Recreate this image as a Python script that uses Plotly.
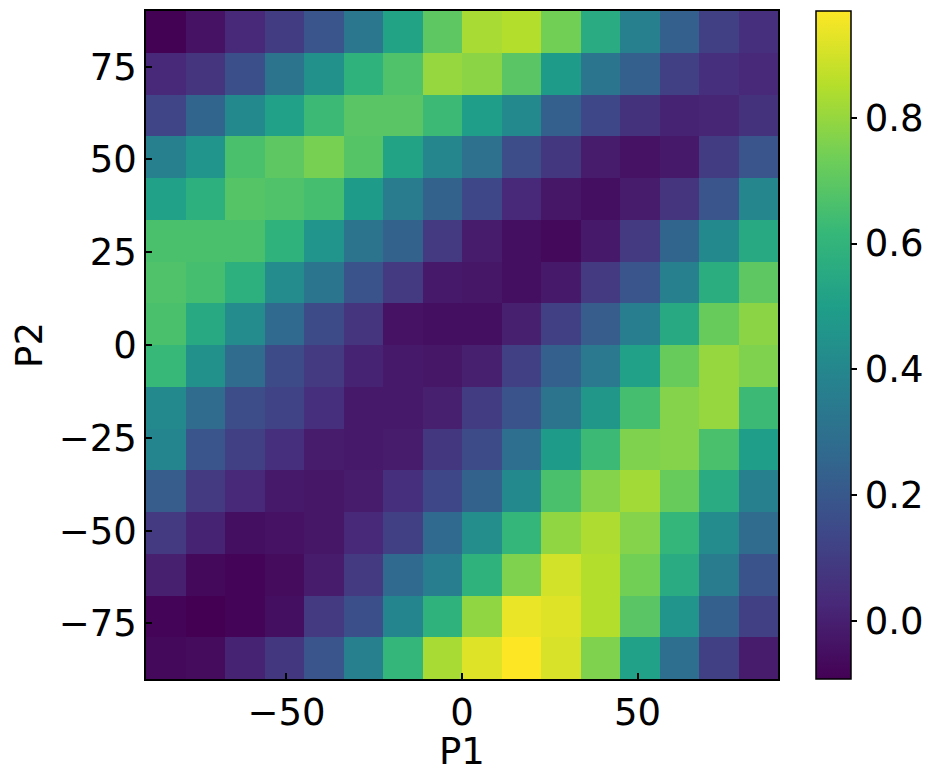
import plotly.graph_objects as go

# cell centres (degrees)
p1_centers = [-84.375, -73.125, -61.875, -50.625, -39.375, -28.125, -16.875, -5.625,
              5.625, 16.875, 28.125, 39.375, 50.625, 61.875, 73.125, 84.375]
# rows listed from top (P2 = 84.375) to bottom (P2 = -84.375)
p2_centers = [84.375, 73.125, 61.875, 50.625, 39.375, 28.125, 16.875, 5.625,
              -5.625, -16.875, -28.125, -39.375, -50.625, -61.875, -73.125, -84.375]

row_00 = [-0.09, -0.04, 0.03, 0.10, 0.19, 0.33, 0.52, 0.70, 0.83, 0.85, 0.74, 0.56, 0.37, 0.23, 0.11, 0.05]
row_01 = [0.03, 0.07, 0.17, 0.31, 0.44, 0.59, 0.67, 0.80, 0.78, 0.69, 0.49, 0.32, 0.23, 0.11, 0.05, 0.03]
row_02 = [0.13, 0.25, 0.41, 0.51, 0.63, 0.69, 0.69, 0.63, 0.50, 0.41, 0.23, 0.14, 0.06, 0.01, 0.02, 0.06]
row_03 = [0.37, 0.46, 0.66, 0.70, 0.75, 0.68, 0.52, 0.40, 0.30, 0.16, 0.08, -0.01, -0.04, -0.02, 0.10, 0.19]
row_04 = [0.51, 0.58, 0.68, 0.67, 0.65, 0.49, 0.35, 0.24, 0.14, 0.03, -0.03, -0.05, -0.01, 0.07, 0.19, 0.40]
row_05 = [0.66, 0.66, 0.66, 0.59, 0.46, 0.31, 0.24, 0.09, -0.01, -0.05, -0.07, -0.02, 0.09, 0.25, 0.41, 0.55]
row_06 = [0.67, 0.65, 0.58, 0.42, 0.32, 0.18, 0.09, -0.02, -0.03, -0.05, -0.02, 0.09, 0.19, 0.37, 0.57, 0.70]
row_07 = [0.66, 0.55, 0.42, 0.27, 0.15, 0.07, -0.04, -0.05, -0.05, 0.00, 0.11, 0.22, 0.36, 0.55, 0.72, 0.78]
row_08 = [0.62, 0.44, 0.28, 0.15, 0.09, 0.01, -0.02, -0.03, 0.00, 0.11, 0.23, 0.34, 0.51, 0.72, 0.80, 0.76]
row_09 = [0.41, 0.28, 0.16, 0.12, 0.05, -0.02, -0.02, 0.00, 0.10, 0.18, 0.31, 0.47, 0.65, 0.77, 0.80, 0.63]
row_10 = [0.39, 0.19, 0.11, 0.05, -0.01, -0.02, -0.01, 0.08, 0.15, 0.29, 0.49, 0.63, 0.76, 0.77, 0.66, 0.50]
row_11 = [0.22, 0.09, 0.03, -0.02, -0.03, -0.01, 0.05, 0.14, 0.24, 0.41, 0.66, 0.77, 0.82, 0.72, 0.56, 0.37]
row_12 = [0.09, 0.01, -0.05, -0.04, -0.03, 0.03, 0.11, 0.27, 0.43, 0.61, 0.79, 0.84, 0.77, 0.61, 0.42, 0.28]
row_13 = [0.00, -0.07, -0.08, -0.06, -0.01, 0.09, 0.27, 0.36, 0.59, 0.76, 0.90, 0.85, 0.74, 0.56, 0.35, 0.18]
row_14 = [-0.08, -0.093, -0.08, -0.05, 0.09, 0.17, 0.39, 0.59, 0.79, 0.94, 0.92, 0.85, 0.69, 0.46, 0.23, 0.11]
row_15 = [-0.07, -0.06, 0.01, 0.08, 0.19, 0.37, 0.61, 0.83, 0.92, 0.97, 0.91, 0.76, 0.51, 0.29, 0.11, -0.01]

z_rows = [row_00, row_01, row_02, row_03, row_04, row_05, row_06, row_07,
          row_08, row_09, row_10, row_11, row_12, row_13, row_14, row_15]

x_tickvals = [-50, 0, 50]
x_ticktext = ["\u221250", "0", "50"]
y_tickvals = [-75, -50, -25, 0, 25, 50, 75]
y_ticktext = ["\u221275", "\u221250", "\u221225", "0", "25", "50", "75"]
cb_tickvals = [0.0, 0.2, 0.4, 0.6, 0.8]
cb_ticktext = ["0.0", "0.2", "0.4", "0.6", "0.8"]

FONT = "DejaVu Sans"
FS = 37

fig = go.Figure(go.Heatmap(
    x=p1_centers, y=p2_centers, z=z_rows,
    colorscale="Viridis", zmin=-0.093, zmax=0.97,
    colorbar=dict(
        x=1.0597, xanchor="left", xref="paper",
        y=0.5, yanchor="middle",
        thickness=35, thicknessmode="pixels",
        len=668, lenmode="pixels",
        outlinecolor="black", outlinewidth=1.5,
        ticks="outside", ticklen=6, tickwidth=1.5, tickcolor="black",
        tickvals=cb_tickvals, ticktext=cb_ticktext,
        tickfont=dict(family=FONT, size=FS, color="black"),
        xpad=0, ypad=0,
    ),
))

axis_common = dict(
    showline=True, linecolor="black", linewidth=1.5, mirror=True,
    ticks="inside", ticklen=6, tickwidth=1.5, tickcolor="black",
    showgrid=False, zeroline=False,
    tickfont=dict(family=FONT, size=FS, color="black"),
    automargin=False,
)

fig.update_layout(
    width=920, height=765,
    margin=dict(l=138, r=146, t=3, b=94),
    paper_bgcolor="white", plot_bgcolor="white",
    font=dict(family=FONT, size=FS, color="black"),
    xaxis=dict(range=[-90, 90], tickvals=x_tickvals, ticktext=x_ticktext,
               title=dict(text="P1", font=dict(family=FONT, size=FS), standoff=4),
               **axis_common),
    yaxis=dict(range=[-90, 90], tickvals=y_tickvals, ticktext=y_ticktext,
               title=dict(text="P2", font=dict(family=FONT, size=FS), standoff=8),
               **axis_common),
)

fig.write_html("out.html")
